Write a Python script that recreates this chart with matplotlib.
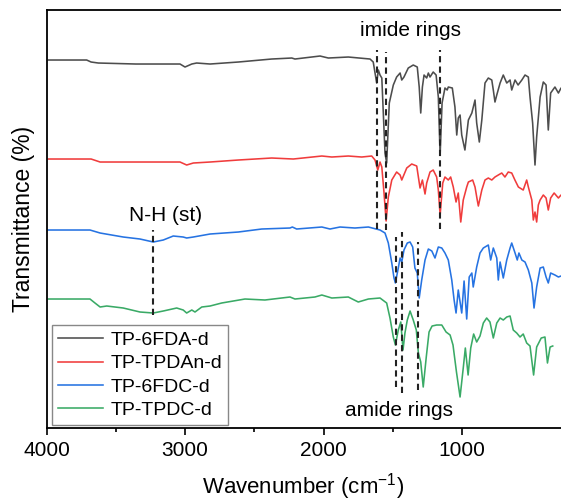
import matplotlib
matplotlib.use("Agg")
import matplotlib.pyplot as plt

# FTIR spectra: wavenumber (cm-1) vs stacked transmittance (a.u., offsets already included)
wn_6fda = [3987, 3710, 3678, 3626, 3355, 3036, 3000, 2951, 2916, 2819, 2615, 2374, 2229, 2206,
           2025, 1965, 1821, 1664, 1641, 1616, 1604, 1592, 1579, 1556, 1544, 1525, 1496, 1472,
           1447, 1435, 1419, 1388, 1352, 1323, 1309, 1298, 1286, 1274, 1255, 1243, 1231, 1208,
           1187, 1171, 1158, 1144, 1123, 1107, 1099, 1070, 1051, 1038, 1027, 1014, 1002, 979,
           954, 929, 906, 894, 875, 857, 834, 810, 785, 774, 762, 749, 725, 702, 677,
           653, 641, 617, 595, 568, 545, 521, 509, 490, 473, 461, 436, 413, 393, 377, 360, 329,
           304, 285, 272]
t_6fda = [368, 368, 366, 365, 364, 364, 361, 364, 365, 364, 366, 369, 370, 369,
          372, 370, 371, 369, 366, 345, 358, 353, 350, 275, 265, 325, 343, 351,
          355, 348, 351, 360, 363, 361, 341, 315, 341, 353, 350, 355, 351, 356,
          353, 331, 273, 325, 340, 338, 341, 340, 321, 293, 310, 313, 293, 278,
          308, 315, 328, 305, 286, 308, 345, 350, 348, 338, 326, 333, 345, 353, 345,
          348, 338, 348, 343, 348, 353, 351, 331, 305, 263, 291, 331, 346, 343, 298, 335, 341,
          335, 340, 338]

wn_tpdan = [3987, 3678, 3613, 3036, 2988, 2940, 2819, 2615, 2374, 2218, 2012, 1940, 1821, 1724,
            1652, 1628, 1608, 1592, 1579, 1563, 1548, 1532, 1507, 1472, 1447, 1435, 1399, 1363,
            1327, 1315, 1303, 1286, 1267, 1255, 1231, 1208, 1183, 1171, 1158, 1139, 1123, 1099,
            1082, 1063, 1043, 1027, 1009, 991, 966, 954, 923, 906, 890, 882, 857, 834,
            810, 785, 762, 738, 713, 690, 666, 641, 618, 593, 558, 533, 521, 496, 485, 473,
            461, 449, 436, 413, 393, 377, 360, 335, 304, 285, 272]
t_tpdan = [269, 269, 266, 266, 263, 265, 266, 268, 270, 269, 272, 271, 272, 271,
           272, 268, 258, 266, 261, 235, 207, 231, 248, 256, 253, 248, 260, 264,
           262, 251, 240, 248, 234, 245, 256, 258, 251, 238, 213, 245, 251, 248,
           251, 241, 226, 235, 206, 228, 241, 246, 248, 241, 228, 222, 238, 248,
           250, 248, 251, 253, 255, 251, 256, 255, 248, 241, 238, 248, 241, 228, 208, 216,
           206, 223, 228, 233, 230, 218, 230, 235, 230, 233, 231]

wn_6fdc = [3987, 3686, 3613, 3446, 3325, 3229, 3157, 3085, 3013, 2988, 2940, 2819, 2615, 2446,
           2242, 2225, 2194, 2012, 1953, 1881, 1773, 1676, 1592, 1556, 1532, 1507, 1491, 1481,
           1460, 1447, 1435, 1419, 1395, 1375, 1356, 1340, 1323, 1309, 1291, 1267, 1243, 1218,
           1195, 1171, 1146, 1123, 1099, 1074, 1057, 1043, 1027, 1002, 985, 966, 948, 929,
           919, 894, 870, 846, 810, 793, 774, 749, 738, 725, 702, 677, 653, 641, 617,
           601, 589, 568, 545, 521, 496, 480, 461, 436, 413, 393, 377, 360, 329, 304, 285, 272]
t_6fdc = [198, 198, 195, 191, 189, 186, 188, 192, 191, 190, 191, 194, 196, 199,
          200, 201, 199, 201, 199, 201, 200, 201, 198, 195, 185, 165, 150, 145,
          160, 170, 166, 178, 185, 186, 181, 160, 155, 130, 148, 168, 179, 177,
          170, 181, 180, 175, 168, 148, 128, 115, 138, 115, 147, 109, 151, 155,
          141, 161, 175, 180, 183, 168, 180, 170, 148, 166, 150, 168, 180, 185, 175,
          168, 175, 168, 166, 158, 145, 120, 141, 160, 161, 151, 145, 155, 153, 151, 152, 151]

wn_tpdc = [3987, 3686, 3650, 3613, 3565, 3446, 3325, 3229, 3157, 3060, 3013, 2988, 2951, 2928,
           2879, 2819, 2735, 2567, 2423, 2242, 2206, 2062, 2012, 1940, 1821, 1749, 1676, 1592,
           1544, 1520, 1496, 1481, 1460, 1442, 1426, 1412, 1395, 1375, 1352, 1330, 1315, 1298,
           1280, 1258, 1238, 1216, 1183, 1146, 1115, 1086, 1065, 1040, 1014, 991, 976, 956,
           937, 916, 894, 870, 846, 822, 798, 774, 749, 725, 702, 677, 653, 630, 605,
           581, 558, 533, 509, 483, 461, 428, 401, 383, 364, 345]
t_tpdc = [129, 129, 125, 121, 122, 120, 116, 115, 117, 120, 118, 115, 118, 116,
          121, 122, 125, 129, 128, 131, 129, 131, 133, 130, 131, 126, 129, 130,
          125, 110, 91, 83, 98, 106, 78, 95, 108, 117, 108, 98, 75, 66,
          41, 71, 96, 102, 103, 103, 96, 93, 83, 56, 31, 60, 80, 53,
          80, 94, 86, 92, 105, 110, 106, 90, 105, 110, 108, 111, 112, 98, 95,
          91, 94, 85, 82, 53, 81, 90, 91, 65, 81, 82]

labels = ["TP-6FDA-d", "TP-TPDAn-d", "TP-6FDC-d", "TP-TPDC-d"]
colors = ["#4d4d4d", "#f03c3c", "#2673e2", "#3aaa66"]

# band markers (cm-1), placed where the dashed guides sit in the figure
nh_band = 3231
imide_bands = [1616, 1550, 1158]
amide_bands = [1478, 1435, 1315]


def main():
    plt.rcParams["font.family"] = "Liberation Sans"
    plt.rcParams["mathtext.fontset"] = "custom"
    plt.rcParams["mathtext.rm"] = "Liberation Sans"

    fig = plt.figure(figsize=(5.61, 5.01), dpi=100)
    # axes run past the right edge, like the cropped original
    ax = fig.add_axes([0.0829, 0.1457, 0.9258, 0.8343])

    series = [(wn_6fda, t_6fda), (wn_tpdan, t_tpdan), (wn_6fdc, t_6fdc), (wn_tpdc, t_tpdc)]
    for (wn, t), lab, c in zip(series, labels, colors):
        ax.plot(wn, t, color=c, lw=1.15, label=lab)

    dash = (0, (3, 2))
    ax.vlines(nh_band, 113, 198, colors="#222222", linestyles=dash, lw=1.5)
    ax.vlines(imide_bands, [199, 198, 199], [378, 376, 378], colors="#222222", linestyles=dash, lw=1.5)
    ax.vlines(amide_bands, [41, 35, 38], [191, 196, 186], colors="#222222", linestyles=dash, lw=1.5)

    ax.text(3139, 213, "N-H (st)", ha="center", va="center", fontsize=15)
    ax.text(1375, 398, "imide rings", ha="center", va="center", fontsize=15)
    ax.text(1455, 18, "amide rings", ha="center", va="center", fontsize=15)

    ax.set_xlim(4000, 250)
    ax.set_ylim(0, 418)
    ax.set_xticks([4000, 3000, 2000, 1000])
    ax.set_xticks([3500, 2500, 1500], minor=True)
    ax.set_yticks([])
    ax.tick_params(axis="x", which="major", direction="out", length=5, width=1.2,
                   labelsize=15, pad=4)
    ax.tick_params(axis="x", which="minor", direction="out", length=3, width=1.2)
    for s in ax.spines.values():
        s.set_linewidth(1.3)

    ax.set_xlabel("Wavenumber (cm$^{-1}$)", fontsize=16)
    ax.set_ylabel("Transmittance (%)", fontsize=16.5)
    ax.xaxis.set_label_coords(0.4945, -0.102)
    ax.yaxis.set_label_coords(-0.022, 0.5)

    leg = ax.legend(loc="lower left", bbox_to_anchor=(0.0106, 0.007), borderaxespad=0,
                    fontsize=14, fancybox=False, edgecolor="#888888", framealpha=1,
                    handlelength=2.3, handletextpad=0.4, labelspacing=0.3, borderpad=0.3)
    leg.get_frame().set_linewidth(1.0)

    fig.savefig("out.png", dpi=100)
    plt.close(fig)


if __name__ == "__main__":
    main()
